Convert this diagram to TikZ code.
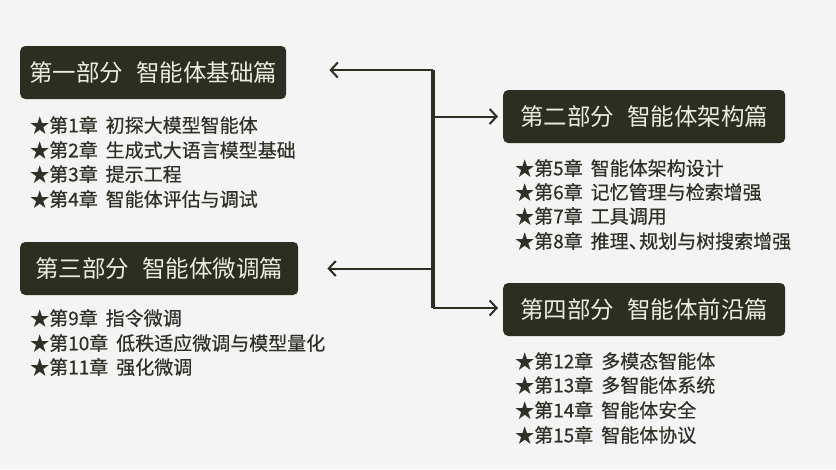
\documentclass[tikz,border=0pt]{standalone}
\usepackage{fontspec}
\setmainfont{Noto Sans CJK SC}
\newfontfamily\itemfont[FakeBold=0.5]{Noto Sans CJK SC}
\usetikzlibrary{arrows.meta}
\definecolor{boxdark}{HTML}{2B2E21}
\definecolor{boxtext}{HTML}{ECEBDF}
\definecolor{itemtext}{HTML}{2E3127}
\definecolor{pagebg}{HTML}{F4F4F4}
\newcommand{\pgap}{\hspace{0.55em}}
\newcommand{\cgap}{\hspace{0.42em}}
\tikzset{
	partbox/.style={fill=boxdark, text=boxtext, rounded corners=5pt, minimum height=53pt, inner xsep=9pt, anchor=west, font=\fontsize{23.5}{27}\selectfont},
	chapter/.style={text=itemtext, inner sep=0pt, anchor=west, font=\itemfont\fontsize{19}{23}\selectfont},
	branch/.style={draw=boxdark, line width=2pt, -{Straight Barb[length=7pt,width=15pt,line width=2pt]}},
	trunk/.style={draw=boxdark, line width=4pt},
}

\begin{document}
\begin{tikzpicture}[x=1pt,y=-1pt]
\fill[pagebg] (0,0) rectangle (836,469);
\useasboundingbox (0,0) rectangle (836,469);
% parts
\node[partbox, minimum width=266pt] (part1) at (20,72.5) {第一部分\pgap 智能体基础篇};
\node[partbox, minimum width=282pt] (part2) at (503,116.5) {第二部分\pgap 智能体架构篇};
\node[partbox, minimum width=278pt] (part3) at (20,268.5) {第三部分\pgap 智能体微调篇};
\node[partbox, minimum width=282pt] (part4) at (503,309.5) {第四部分\pgap 智能体前沿篇};
% chapters
\node[chapter] (c1) at (30,125) {★第1章\cgap 初探大模型智能体};
\node[chapter] (c2) at (30,150) {★第2章\cgap 生成式大语言模型基础};
\node[chapter] (c3) at (30,174) {★第3章\cgap 提示工程};
\node[chapter] (c4) at (30,199) {★第4章\cgap 智能体评估与调试};
\node[chapter] (c5) at (515,168) {★第5章\cgap 智能体架构设计};
\node[chapter] (c6) at (515,192) {★第6章\cgap 记忆管理与检索增强};
\node[chapter] (c7) at (515,216) {★第7章\cgap 工具调用};
\node[chapter] (c8) at (515,241) {★第8章\cgap 推理、\kern-0.45em 规划与树搜索增强};
\node[chapter] (c9) at (30,318) {★第9章\cgap 指令微调};
\node[chapter] (c10) at (30,343) {★第10章\cgap 低秩适应微调与模型量化};
\node[chapter] (c11) at (30,367) {★第11章\cgap 强化微调};
\node[chapter] (c12) at (515,361) {★第12章\cgap 多模态智能体};
\node[chapter] (c13) at (515,385) {★第13章\cgap 多智能体系统};
\node[chapter] (c14) at (515,410) {★第14章\cgap 智能体安全};
\node[chapter] (c15) at (515,435) {★第15章\cgap 智能体协议};
% connectors
\coordinate (top) at (433,70);
\coordinate (bottom) at (433,308);
\draw[trunk] (top) -- (bottom);
\draw[branch, shorten >=43pt] (top) -- (top -| part1.east);
\draw[branch, shorten >=5pt] (top |- part2.west) -- (part2.west);
\draw[branch, shorten >=29pt] (top |- part3.east) -- (part3.east);
\draw[branch, shorten >=5pt] (bottom) -- (bottom -| part4.west);
\end{tikzpicture}
\end{document}
